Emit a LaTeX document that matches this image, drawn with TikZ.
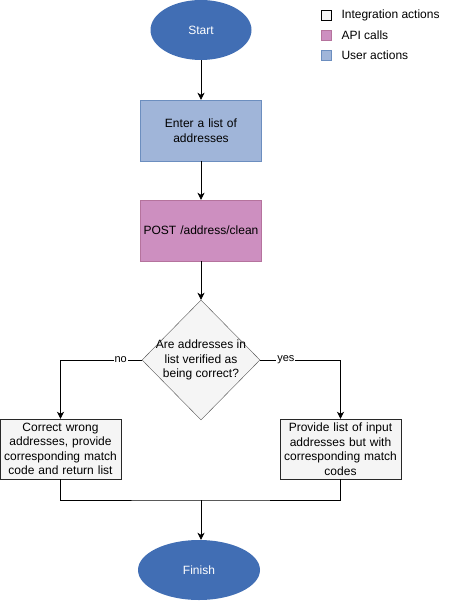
\documentclass[tikz,border=0pt]{standalone}
\usepackage{fontspec}
\setmainfont{Liberation Sans}
\usetikzlibrary{shapes.geometric,arrows.meta}

\definecolor{termfill}{RGB}{65,110,180}
\definecolor{userfill}{RGB}{160,181,217}
\definecolor{userline}{RGB}{108,142,191}
\definecolor{apifill}{RGB}{205,143,192}
\definecolor{apiline}{RGB}{181,115,157}
\definecolor{intfill}{RGB}{245,245,245}
\definecolor{intline}{RGB}{40,40,40}

\tikzset{
  every node/.style={font=\fontsize{12}{14.5}\selectfont},
  term/.style={ellipse,fill=termfill,draw=none,text=white,inner sep=0pt},
  useract/.style={rectangle,fill=userfill,draw=userline,minimum width=121pt,minimum height=61pt,text width=110pt,align=center,inner sep=0pt},
  apicall/.style={rectangle,fill=apifill,draw=apiline,minimum width=121pt,minimum height=61pt,text width=118pt,align=center,inner sep=0pt},
  intact/.style={rectangle,fill=intfill,draw=intline,minimum width=121pt,minimum height=60pt,text width=118pt,align=center,inner sep=0pt},
  decision/.style={diamond,fill=intfill,draw=intline!80,minimum width=118pt,minimum height=120pt,inner sep=0pt},
  legbox/.style={rectangle,minimum size=10pt,inner sep=0pt},
  edgelbl/.style={fill=white,inner sep=1pt,font=\fontsize{11}{13}\selectfont},
  flow/.style={-{Stealth[length=7pt,width=7pt,inset=2pt]},line width=0.8pt}
}

\begin{document}
\begin{tikzpicture}[x=1pt,y=-1pt]
  \useasboundingbox (0,0) rectangle (471,601);
  % legend
  \node[legbox,fill=intfill,draw=black] (k1) at (326,15) {};
  \node[legbox,fill=apifill,draw=apiline] (k2) at (326,35) {};
  \node[legbox,fill=userfill,draw=userline] (k3) at (326,55) {};
  \node[anchor=west] (t1) at (338,15) {Integration actions};
  \node[anchor=west] (t2) at (338,35) {API calls};
  \node[anchor=west] (t3) at (338,55) {User actions};

  % flow
  \node[term,minimum width=101pt,minimum height=60pt] (start) at (201,30) {Start};
  \node[useract] (enter) at (201,130.5) {Enter a list of\\addresses};
  \node[apicall] (post) at (201,230.5) {POST /address/clean};
  \node[decision] (q) at (201,360) {};
  \node[align=center] (qt) at (201,360) {Are addresses in\\list verified as\\being correct?};
  \node[intact] (fix) at (60.5,449) {Correct wrong\\addresses, provide\\corresponding match\\code and return list};
  \node[intact] (keep) at (340.5,449) {Provide list of input\\addresses but with\\corresponding match\\codes};
  \coordinate (join) at (201,500);
  \node[term,minimum width=122pt,minimum height=60pt] (finish) at (199,570) {Finish};

  \draw[flow] (start) -- (enter);
  \draw[flow] (enter) -- (post);
  \draw[flow] (post) -- (q);
  \draw[flow] (q.west) -| node[edgelbl,pos=0.13] {no} (fix.north);
  \draw[flow] (q.east) -| node[edgelbl,pos=0.16] {yes} (keep.north);
  \draw[line width=0.8pt] (fix.south) |- (join) -| (keep.south);
  \draw[flow] (join) -- (join |- finish.north);
\end{tikzpicture}
\end{document}
